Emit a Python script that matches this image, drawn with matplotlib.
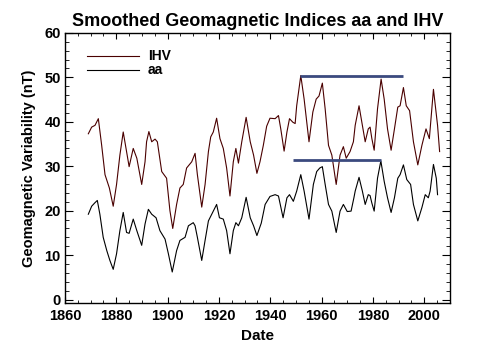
import matplotlib
matplotlib.use("Agg")
import matplotlib.pyplot as plt
from matplotlib.ticker import MultipleLocator

plt.rcParams['font.family'] = ['Liberation Sans', 'DejaVu Sans']
plt.rcParams['font.weight'] = 'bold'

# smoothed IHV
ihv_year = [1869.1, 1870.4, 1871.7, 1873.0, 1874.3, 1875.6, 1877.3, 1878.8, 1880.1, 1881.4,
            1882.7, 1884.0, 1885.0, 1886.6, 1888.0, 1889.9, 1891.2, 1891.8, 1892.7, 1893.8,
            1895.1, 1896.0, 1897.7, 1899.6, 1900.9, 1902.0, 1903.5, 1904.8, 1906.1, 1907.4,
            1909.4, 1910.7, 1911.6, 1913.3, 1914.6, 1915.9, 1916.8, 1917.8, 1919.1, 1920.4,
            1921.7, 1923.0, 1924.3, 1925.6, 1926.6, 1927.6, 1928.9, 1930.6, 1932.2, 1933.5,
            1934.8, 1936.0, 1937.3, 1938.6, 1939.9, 1941.9, 1943.2, 1944.1, 1945.4, 1946.5,
            1947.5, 1948.8, 1949.7, 1950.3, 1951.9, 1953.2, 1955.1, 1956.6, 1957.9, 1959.0,
            1960.3, 1961.4, 1962.7, 1964.0, 1965.7, 1967.2, 1968.5, 1969.6, 1971.1, 1972.4,
            1973.1, 1974.6, 1975.9, 1977.0, 1978.2, 1978.9, 1979.6, 1980.5, 1981.8, 1983.2,
            1984.4, 1985.7, 1987.1, 1988.4, 1989.7, 1990.6, 1991.9, 1993.0, 1994.3, 1995.8,
            1997.5, 1999.1, 2000.7, 2002.0, 2003.6, 2005.2, 2006.0]
ihv = [37.3, 38.8, 39.2, 40.7, 34.7, 28.1, 25.1, 21.0, 25.9, 32.5,
       37.7, 33.3, 29.9, 34.0, 31.8, 25.9, 31.0, 35.5, 37.8, 35.5,
       36.1, 35.5, 28.8, 27.3, 20.0, 16.0, 21.4, 25.1, 25.9, 29.6,
       31.0, 32.9, 28.1, 20.8, 25.9, 33.3, 36.6, 37.7, 40.8, 36.2,
       34.0, 29.6, 23.3, 31.0, 34.0, 30.7, 35.5, 41.0, 35.5, 32.5,
       28.4, 31.0, 34.7, 39.0, 40.8, 40.7, 41.4, 38.4, 33.4, 37.7,
       40.7, 39.9, 39.6, 43.6, 50.4, 45.1, 35.5, 42.2, 45.1, 45.8,
       48.7, 42.9, 34.7, 32.5, 25.9, 32.5, 34.4, 31.8, 33.3, 35.5,
       39.2, 43.6, 39.2, 35.5, 38.4, 38.8, 36.2, 33.6, 42.9, 49.6,
       45.1, 38.4, 33.6, 38.4, 43.3, 43.6, 47.7, 43.6, 42.5, 35.5,
       30.3, 34.7, 38.4, 36.2, 47.3, 39.2, 33.3]

# smoothed aa
aa_year = [1869.1, 1870.4, 1871.7, 1872.6, 1873.6, 1874.9, 1876.3, 1877.5, 1878.8, 1880.1,
           1881.4, 1882.7, 1884.0, 1885.0, 1886.6, 1888.0, 1889.9, 1891.2, 1892.5, 1893.8,
           1895.5, 1897.0, 1899.0, 1900.3, 1901.8, 1903.5, 1904.8, 1906.8, 1908.1, 1910.0,
           1910.7, 1911.6, 1913.3, 1914.6, 1915.9, 1917.2, 1919.1, 1920.2, 1921.7, 1923.0,
           1924.3, 1925.6, 1926.6, 1927.6, 1928.9, 1930.6, 1932.2, 1933.5, 1934.8, 1936.5,
           1938.0, 1939.9, 1941.9, 1943.2, 1945.0, 1946.5, 1947.5, 1949.0, 1950.3, 1951.9,
           1953.2, 1955.1, 1956.8, 1958.1, 1959.3, 1960.3, 1961.4, 1962.7, 1964.0, 1965.7,
           1967.2, 1968.5, 1970.0, 1971.5, 1972.6, 1973.1, 1974.6, 1975.9, 1977.0, 1978.2,
           1978.9, 1979.6, 1980.5, 1981.8, 1983.1, 1984.4, 1985.7, 1987.1, 1988.4, 1989.7,
           1990.6, 1991.9, 1993.2, 1994.7, 1995.8, 1997.5, 1999.1, 2000.4, 2001.6, 2002.3,
           2003.6, 2004.7, 2005.2]
aa = [19.2, 21.0, 21.8, 22.3, 19.2, 14.0, 11.0, 8.8, 6.8, 10.3,
      15.5, 19.6, 15.1, 14.9, 18.1, 15.5, 12.2, 17.0, 20.3, 19.2,
      18.4, 15.5, 13.6, 10.3, 6.2, 11.0, 13.3, 14.0, 16.6, 17.3,
      16.6, 14.0, 8.8, 13.3, 17.7, 19.2, 21.4, 18.4, 18.1, 15.5,
      10.3, 15.5, 17.3, 16.6, 18.4, 23.0, 18.4, 16.6, 14.4, 17.2,
      21.4, 23.2, 23.6, 23.3, 18.4, 22.9, 23.6, 22.1, 24.4, 28.1,
      24.4, 18.1, 25.9, 28.8, 29.6, 29.9, 25.9, 21.4, 19.9, 15.1,
      19.9, 21.4, 19.8, 19.9, 22.9, 24.4, 27.5, 24.4, 21.4, 23.6,
      23.4, 21.7, 19.9, 27.3, 31.2, 26.6, 22.9, 19.6, 22.9, 27.3,
      28.1, 30.3, 27.0, 25.9, 21.4, 17.7, 20.7, 23.6, 22.9, 24.4,
      30.4, 27.3, 23.6]

# the two blue reference levels
hline_level = [50.4, 31.4]
hline_start = [1951.6, 1949.0]
hline_end = [1991.6, 1983.1]

fig = plt.figure(figsize=(4.96, 3.5), dpi=100)
ax = fig.add_axes([0.131, 0.134, 0.776, 0.772])

ax.plot(ihv_year, ihv, color='#4a0000', lw=0.8, label='IHV')
ax.plot(aa_year, aa, color='black', lw=0.8, label='aa')
ax.hlines(hline_level, hline_start, hline_end, colors='#3b4a7e', lw=2)

ax.set_xlim(1860, 2010)
ax.set_ylim(-0.8, 60)
ax.xaxis.set_major_locator(MultipleLocator(20))
ax.xaxis.set_minor_locator(MultipleLocator(5))
ax.yaxis.set_major_locator(MultipleLocator(10))
ax.yaxis.set_minor_locator(MultipleLocator(2))
ax.tick_params(which='both', direction='in', top=True, right=True, labelsize=10.5, pad=3)
ax.tick_params(axis='x', which='both', pad=4.5)
ax.tick_params(axis='x', which='major', length=4)
ax.tick_params(axis='x', which='minor', length=2.5)
ax.tick_params(axis='y', which='major', length=5.5)
ax.tick_params(axis='y', which='minor', length=2.8)
for sp in ax.spines.values():
    sp.set_linewidth(1)

ax.set_title('Smoothed Geomagnetic Indices aa and IHV', fontsize=13, fontweight='bold', pad=5)
ax.set_xlabel('Date', fontsize=11, fontweight='bold', labelpad=4)
ax.set_ylabel('Geomagnetic Variability (nT)', fontsize=10.5, fontweight='bold', labelpad=6)

leg = ax.legend(loc='upper left', frameon=False, fontsize=10, handlelength=3.8,
                handletextpad=0.6, labelspacing=0.0, borderaxespad=0.6,
                bbox_to_anchor=(0.02, 0.99))

fig.savefig('out.png', dpi=100)
